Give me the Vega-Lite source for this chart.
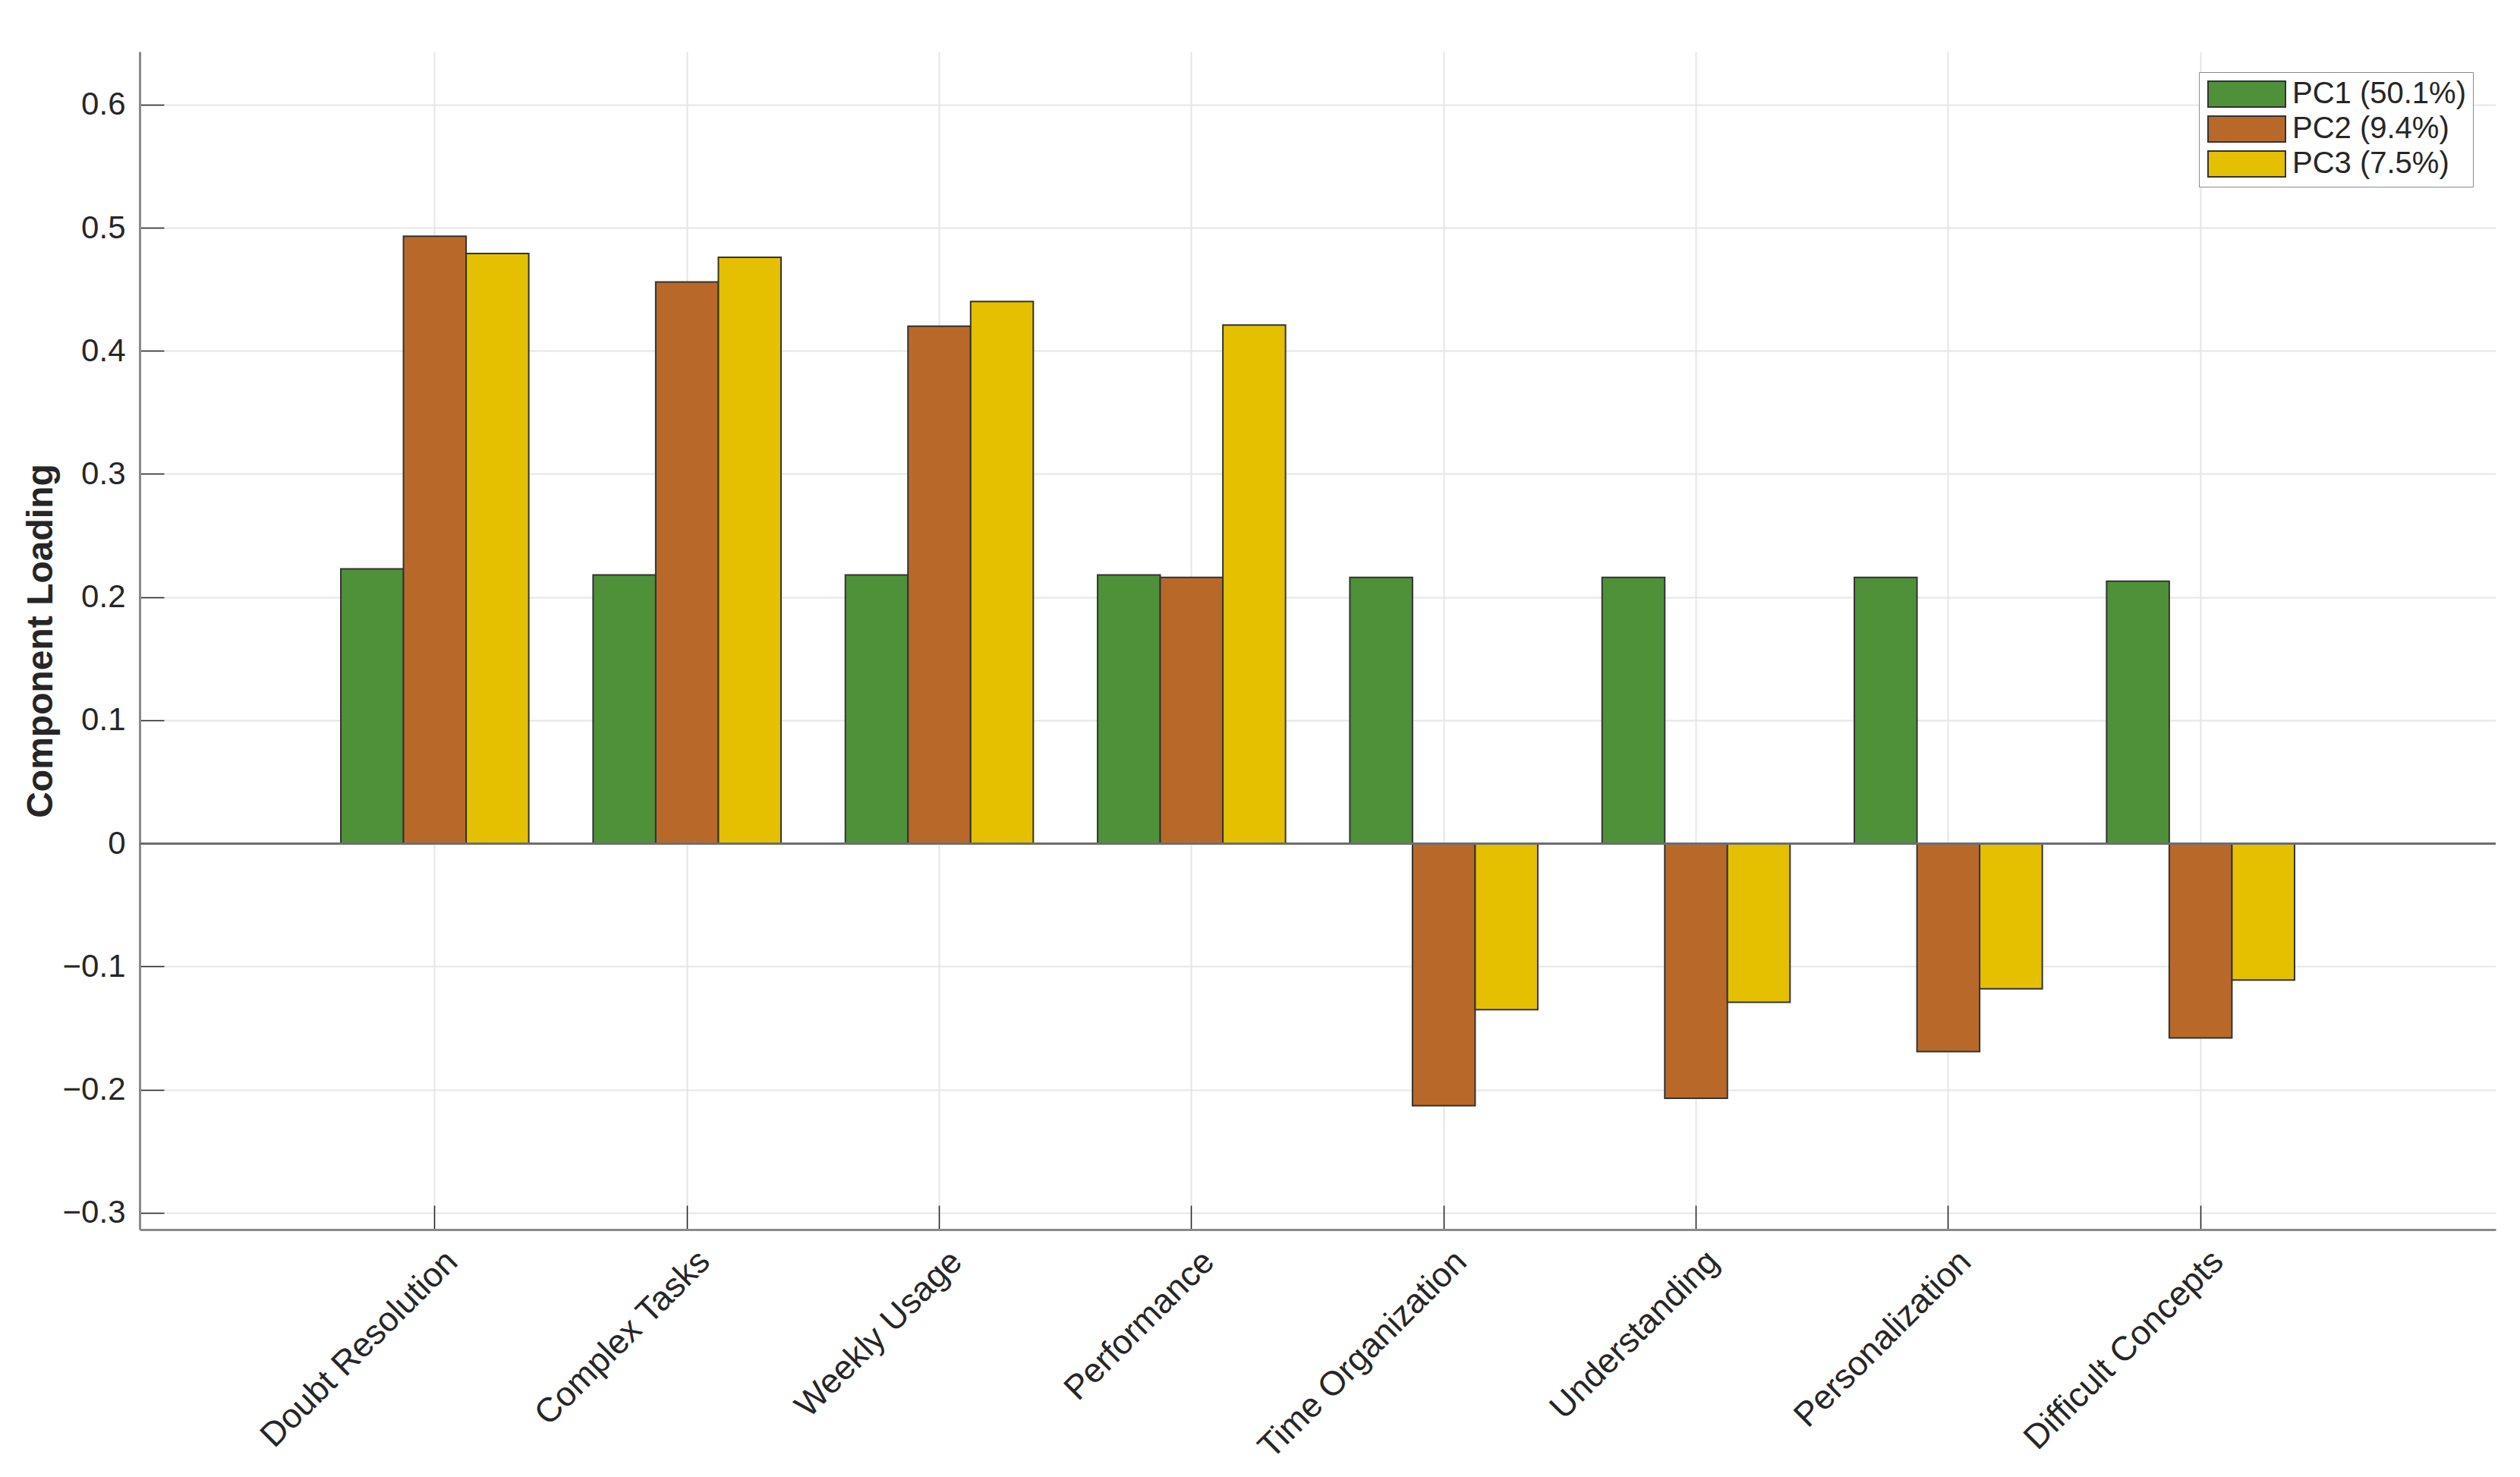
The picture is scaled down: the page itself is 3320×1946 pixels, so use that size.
{
  "$schema": "https://vega.github.io/schema/vega-lite/v6.json",
  "width": 3104,
  "height": 1552,
  "autosize": "none",
  "padding": {"left": 184, "top": 68, "right": 32, "bottom": 326},
  "background": "white",
  "config": {
    "view": {"stroke": null},
    "font": "Liberation Sans"
  },
  "data": {
    "values": [
      {"variable": "Doubt Resolution", "component": "PC1 (50.1%)", "loading": 0.223},
      {"variable": "Doubt Resolution", "component": "PC2 (9.4%)", "loading": 0.493},
      {"variable": "Doubt Resolution", "component": "PC3 (7.5%)", "loading": 0.479},
      {"variable": "Complex Tasks", "component": "PC1 (50.1%)", "loading": 0.218},
      {"variable": "Complex Tasks", "component": "PC2 (9.4%)", "loading": 0.456},
      {"variable": "Complex Tasks", "component": "PC3 (7.5%)", "loading": 0.476},
      {"variable": "Weekly Usage", "component": "PC1 (50.1%)", "loading": 0.218},
      {"variable": "Weekly Usage", "component": "PC2 (9.4%)", "loading": 0.420},
      {"variable": "Weekly Usage", "component": "PC3 (7.5%)", "loading": 0.440},
      {"variable": "Performance", "component": "PC1 (50.1%)", "loading": 0.218},
      {"variable": "Performance", "component": "PC2 (9.4%)", "loading": 0.216},
      {"variable": "Performance", "component": "PC3 (7.5%)", "loading": 0.421},
      {"variable": "Time Organization", "component": "PC1 (50.1%)", "loading": 0.216},
      {"variable": "Time Organization", "component": "PC2 (9.4%)", "loading": -0.213},
      {"variable": "Time Organization", "component": "PC3 (7.5%)", "loading": -0.135},
      {"variable": "Understanding", "component": "PC1 (50.1%)", "loading": 0.216},
      {"variable": "Understanding", "component": "PC2 (9.4%)", "loading": -0.207},
      {"variable": "Understanding", "component": "PC3 (7.5%)", "loading": -0.129},
      {"variable": "Personalization", "component": "PC1 (50.1%)", "loading": 0.216},
      {"variable": "Personalization", "component": "PC2 (9.4%)", "loading": -0.169},
      {"variable": "Personalization", "component": "PC3 (7.5%)", "loading": -0.118},
      {"variable": "Difficult Concepts", "component": "PC1 (50.1%)", "loading": 0.213},
      {"variable": "Difficult Concepts", "component": "PC2 (9.4%)", "loading": -0.158},
      {"variable": "Difficult Concepts", "component": "PC3 (7.5%)", "loading": -0.111}
    ]
  },
  "layer": [
    {
      "mark": {"type": "bar", "stroke": "#333333", "strokeWidth": 2},
      "encoding": {
        "x": {
          "field": "variable",
          "type": "nominal",
          "sort": null,
          "scale": {"paddingInner": 0.255, "paddingOuter": 0.7975},
          "axis": {
            "title": null,
            "labelAngle": -45,
            "labelAlign": "right",
            "labelBaseline": "top",
            "labelFontSize": 45,
            "labelColor": "#262626",
            "labelLimit": 0,
            "labelPadding": 51,
            "labelOffset": 7,
            "tickSize": -32,
            "tickColor": "#262626",
            "tickWidth": 1.5,
            "domainColor": "#8a8a8a",
            "domainWidth": 3,
            "grid": true,
            "gridColor": "#e6e6e6",
            "gridWidth": 2
          }
        },
        "xOffset": {
          "field": "component",
          "type": "nominal",
          "scale": {"paddingInner": 0, "paddingOuter": 0}
        },
        "y": {
          "field": "loading",
          "type": "quantitative",
          "scale": {"domain": [-0.3136, 0.643], "nice": false, "zero": false},
          "axis": {
            "title": "Component Loading",
            "titleFontSize": 48,
            "titleFontWeight": "bold",
            "titleColor": "#262626",
            "titleX": -106,
            "titleY": 776,
            "titleAngle": -90,
            "titleAlign": "center",
            "titleBaseline": "bottom",
            "values": [-0.3, -0.2, -0.1, 0, 0.1, 0.2, 0.3, 0.4, 0.5, 0.6],
            "format": ".1~f",
            "labelFontSize": 42,
            "labelColor": "#262626",
            "labelPadding": 51,
            "tickSize": -32,
            "tickColor": "#262626",
            "tickWidth": 1.5,
            "domainColor": "#8a8a8a",
            "domainWidth": 3,
            "grid": true,
            "gridColor": "#e6e6e6",
            "gridWidth": 2
          }
        },
        "color": {
          "field": "component",
          "type": "nominal",
          "scale": {
            "domain": ["PC1 (50.1%)", "PC2 (9.4%)", "PC3 (7.5%)"],
            "range": ["#4e9139", "#b8692a", "#e4c000"]
          },
          "legend": {
            "title": null,
            "orient": "none",
            "legendX": 2713,
            "legendY": 27,
            "padding": 9,
            "fillColor": "white",
            "strokeColor": "#8c8c8c",
            "cornerRadius": 0,
            "symbolType": "M-3,-1H3V1H-3Z",
            "symbolSize": 1156,
            "symbolOffset": 34,
            "symbolStrokeColor": "#333333",
            "symbolStrokeWidth": 2,
            "symbolOpacity": 1,
            "labelFontSize": 40,
            "labelColor": "#262626",
            "labelLimit": 0,
            "labelOffset": 40,
            "rowPadding": 4
          }
        }
      }
    },
    {
      "mark": {"type": "rule", "color": "#6e6e6e", "strokeWidth": 2.5},
      "encoding": {"y": {"datum": 0}}
    }
  ]
}
